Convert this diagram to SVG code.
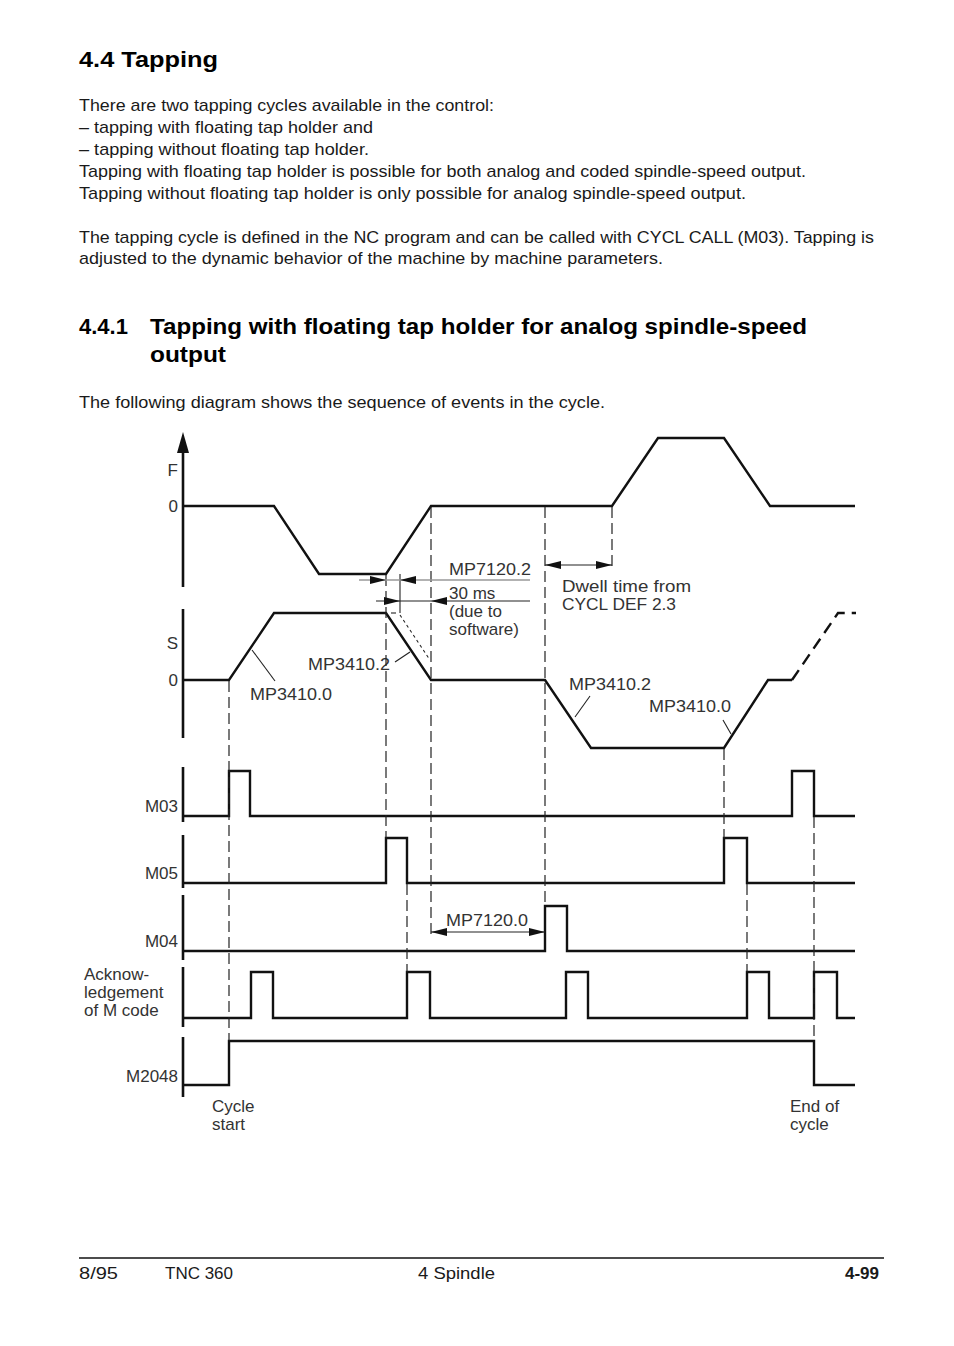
<svg xmlns="http://www.w3.org/2000/svg" width="954" height="1346" viewBox="0 0 954 1346">
<style>
.t{font-family:"Liberation Sans",Arial,sans-serif;font-size:17px;fill:#1a1a1a}
.h{font-family:"Liberation Sans",Arial,sans-serif;font-weight:bold;font-size:22px;fill:#000}
.l{font-family:"Liberation Sans",Arial,sans-serif;font-size:17px;fill:#333}
.r{text-anchor:end}
.sig{fill:none;stroke:#111;stroke-width:2.4;stroke-linejoin:miter}
.ax{fill:none;stroke:#111;stroke-width:2.6}
.dash{fill:none;stroke:#222;stroke-width:1.2;stroke-dasharray:11 5}
.thin{fill:none;stroke:#222;stroke-width:1.1}
.gray{fill:none;stroke:#999;stroke-width:1.3}
.ah{fill:#111}
</style>
<rect width="954" height="1346" fill="#fff"/>
<g id="page-text">
<text class="h" x="79" y="67" font-size="23" textLength="139" lengthAdjust="spacingAndGlyphs">4.4  Tapping</text>
<text class="t" x="79" y="111" textLength="415" lengthAdjust="spacingAndGlyphs">There are two tapping cycles available in the control:</text>
<text class="t" x="79" y="133" textLength="294" lengthAdjust="spacingAndGlyphs">– tapping with floating tap holder and</text>
<text class="t" x="79" y="155" textLength="290" lengthAdjust="spacingAndGlyphs">– tapping without floating tap holder.</text>
<text class="t" x="79" y="177" textLength="727" lengthAdjust="spacingAndGlyphs">Tapping with floating tap holder is possible for both analog and coded spindle-speed output.</text>
<text class="t" x="79" y="199" textLength="667" lengthAdjust="spacingAndGlyphs">Tapping without floating tap holder is only possible for analog spindle-speed  output.</text>
<text class="t" x="79" y="243" textLength="795" lengthAdjust="spacingAndGlyphs">The tapping cycle is defined in the NC program and can be called with CYCL CALL (M03). Tapping is</text>
<text class="t" x="79" y="264" textLength="584" lengthAdjust="spacingAndGlyphs">adjusted to the dynamic behavior of the machine by machine parameters.</text>
<text class="h" x="79" y="334">4.4.1</text>
<text class="h" x="150" y="334" textLength="657" lengthAdjust="spacingAndGlyphs">Tapping with floating tap holder for analog spindle-speed</text>
<text class="h" x="150" y="362" textLength="76" lengthAdjust="spacingAndGlyphs">output</text>
<text class="t" x="79" y="408" textLength="526" lengthAdjust="spacingAndGlyphs">The following diagram shows the sequence of events in the cycle.</text>
<line x1="79" y1="1258" x2="884" y2="1258" stroke="#111" stroke-width="1.3"/>
<text class="t" x="79" y="1279" textLength="39" lengthAdjust="spacingAndGlyphs">8/95</text>
<text class="t" x="165" y="1279" textLength="68" lengthAdjust="spacingAndGlyphs">TNC 360</text>
<text class="t" x="418" y="1279" textLength="77" lengthAdjust="spacingAndGlyphs">4  Spindle</text>
<text class="t" x="879" y="1279" text-anchor="end" font-weight="bold" fill="#000">4-99</text>
</g>
<g id="axes">
<polygon class="ah" points="183,432 177,453 189,453"/>
<line class="ax" x1="183" y1="450" x2="183" y2="587"/>
<line class="ax" x1="183" y1="609" x2="183" y2="738"/>
<line class="ax" x1="183" y1="767" x2="183" y2="822"/>
<line class="ax" x1="183" y1="835" x2="183" y2="888"/>
<line class="ax" x1="183" y1="895" x2="183" y2="960"/>
<line class="ax" x1="183" y1="967" x2="183" y2="1027"/>
<line class="ax" x1="183" y1="1037" x2="183" y2="1097"/>
</g>
<g id="signal-F">
<path class="sig" d="M183,506 H274 L319,574 H386 L431,506 H612 L658,438 H724 L770,506 H855"/>
<text class="l r" x="178" y="476">F</text>
<text class="l r" x="178" y="512">0</text>
</g>
<g id="signal-S">
<path class="sig" d="M183,680 H229 L274,613 H386 L431,680 H545 L591,748 H724 L768,680 H792"/>
<path class="sig" d="M792,680 L838,613 H856" stroke-dasharray="12 7"/>
<path class="thin" d="M391,613 H396"/>
<path class="thin" d="M400,615 L430,660" stroke-dasharray="3 3"/>
<text class="l r" x="178" y="649">S</text>
<text class="l r" x="178" y="686">0</text>
<text class="l" x="250" y="700" textLength="82" lengthAdjust="spacingAndGlyphs">MP3410.0</text>
<line class="thin" x1="252" y1="650" x2="275" y2="681"/>
<text class="l" x="308" y="670" textLength="82" lengthAdjust="spacingAndGlyphs">MP3410.2</text>
<line class="thin" x1="395" y1="662" x2="410" y2="652"/>
<text class="l" x="569" y="690" textLength="82" lengthAdjust="spacingAndGlyphs">MP3410.2</text>
<line class="thin" x1="590" y1="696" x2="575" y2="717"/>
<text class="l" x="649" y="712" textLength="82" lengthAdjust="spacingAndGlyphs">MP3410.0</text>
<line class="thin" x1="723" y1="720" x2="731" y2="734"/>
</g>
<g id="signal-M03">
<path class="sig" d="M183,816 H229 V771 H250 V816 H792 V771 H814 V816 H855"/>
<text class="l r" x="178" y="812">M03</text>
</g>
<g id="signal-M05">
<path class="sig" stroke-width="3" d="M183,883 H386 V838 H407 V883 H724 V838 H747 V883 H855"/>
<text class="l r" x="178" y="879">M05</text>
</g>
<g id="signal-M04">
<path class="sig" d="M183,951 H545 V906 H567 V951 H855"/>
<text class="l r" x="178" y="947">M04</text>
</g>
<g id="signal-ack">
<path class="sig" d="M183,1018 H251 V972 H273 V1018 H407 V972 H430 V1018 H566 V972 H588 V1018 H747 V972 H769 V1018 H814 V972 H837 V1018 H855"/>
<text class="l" x="84" y="980">Acknow-</text>
<text class="l" x="84" y="998">ledgement</text>
<text class="l" x="84" y="1016">of M code</text>
</g>
<g id="signal-M2048">
<path class="sig" d="M183,1085 H229 V1041 H814 V1085 H855"/>
<text class="l r" x="178" y="1082">M2048</text>
<text class="l" x="212" y="1112">Cycle</text>
<text class="l" x="212" y="1130">start</text>
<text class="l" x="790" y="1112">End of</text>
<text class="l" x="790" y="1130">cycle</text>
</g>
<g id="connectors">
<line class="dash" x1="229" y1="681" x2="229" y2="1041"/>
<line class="dash" x1="386" y1="575" x2="386" y2="838"/>
<line class="dash" x1="431" y1="507" x2="431" y2="936"/>
<line class="dash" x1="407" y1="884" x2="407" y2="972"/>
<line class="dash" x1="545" y1="507" x2="545" y2="906"/>
<line class="dash" x1="612" y1="507" x2="612" y2="566"/>
<line class="dash" x1="724" y1="749" x2="724" y2="838"/>
<line class="dash" x1="747" y1="884" x2="747" y2="972"/>
<line class="dash" x1="814" y1="817" x2="814" y2="1041"/>
<line class="thin" x1="400" y1="574" x2="400" y2="613"/>
<line class="gray" x1="359" y1="580" x2="530" y2="580"/>
<polygon class="ah" points="386,580 370,576 370,584"/>
<polygon class="ah" points="400,580 416,576 416,584"/>
<line class="thin" x1="376" y1="601" x2="530" y2="601"/>
<polygon class="ah" points="400,601 384,597 384,605"/>
<polygon class="ah" points="431,601 447,597 447,605"/>
<text class="l" x="449" y="575" textLength="82" lengthAdjust="spacingAndGlyphs">MP7120.2</text>
<text class="l" x="449" y="599">30 ms</text>
<text class="l" x="449" y="617">(due to</text>
<text class="l" x="449" y="635">software)</text>
<line class="thin" x1="545" y1="565" x2="612" y2="565"/>
<polygon class="ah" points="545,565 561,561 561,569"/>
<polygon class="ah" points="612,565 596,561 596,569"/>
<text class="l" x="562" y="592" textLength="129" lengthAdjust="spacingAndGlyphs">Dwell time from</text>
<text class="l" x="562" y="610" textLength="114" lengthAdjust="spacingAndGlyphs">CYCL DEF 2.3</text>
<line class="thin" x1="431" y1="932" x2="545" y2="932"/>
<polygon class="ah" points="431,932 447,928 447,936"/>
<polygon class="ah" points="545,932 529,928 529,936"/>
<text class="l" x="446" y="926" textLength="82" lengthAdjust="spacingAndGlyphs">MP7120.0</text>
</g>
</svg>
